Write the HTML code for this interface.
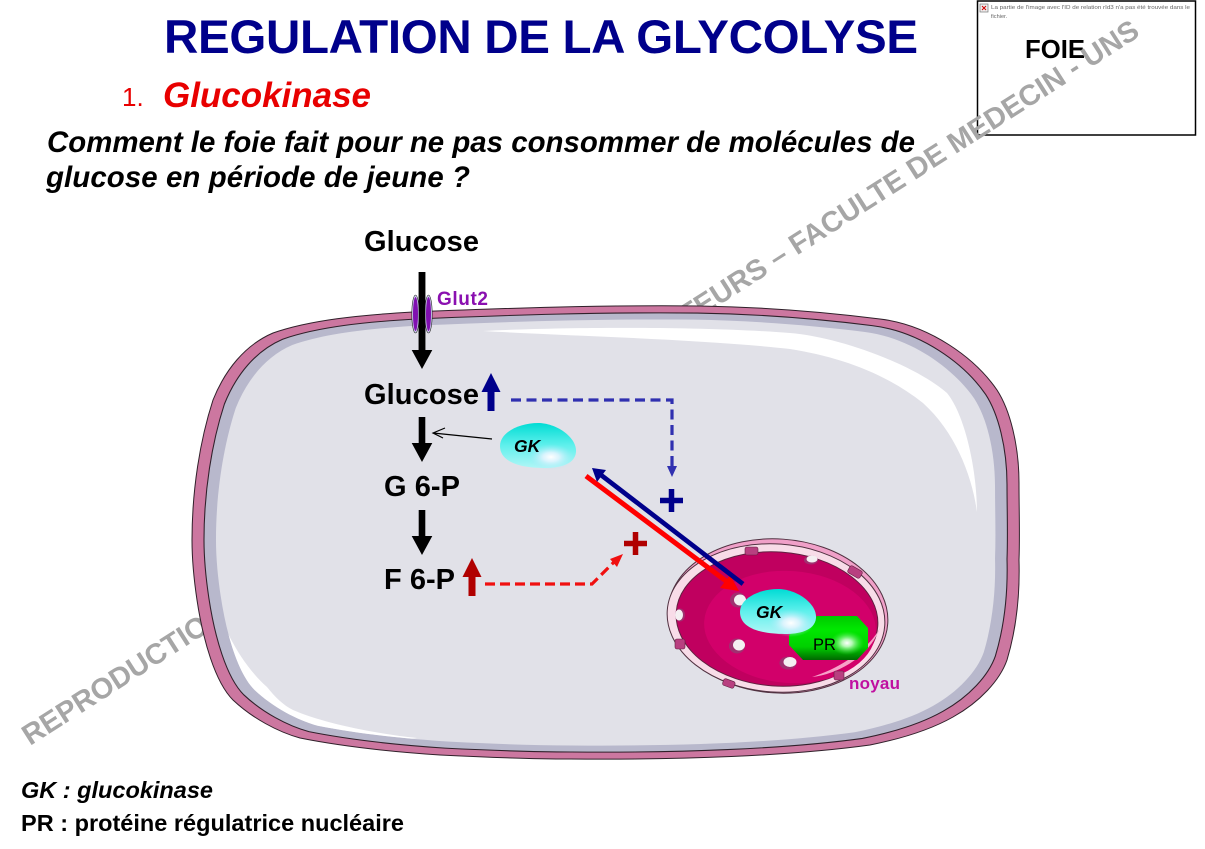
<!DOCTYPE html>
<html><head><meta charset="utf-8"><style>
html,body{margin:0;padding:0;background:#fff;width:1205px;height:849px;overflow:hidden}
svg{display:block;font-family:"Liberation Sans",sans-serif}
</style></head><body>
<svg width="1205" height="849" viewBox="0 0 1205 849" xmlns="http://www.w3.org/2000/svg">
<defs>
<path id="cell" d="M413 312 C510 308 600 305 700 306 C760 307 825 312 880 319 C930 325 975 358 997 390 C1010 410 1019 445 1019 483 C1019 510 1020 535 1019 560 C1020 595 1016 630 1007 660 C1000 680 980 702 953 717 C930 730 900 739 870 745 C790 756 680 760 570 759 C525 759 480 757 440 755 C395 752 345 747 300 738 C278 732 252 718 233 700 C215 682 203 640 197 600 C194 580 192 560 192 540 C192 490 200 440 213 400 C225 370 245 345 273 333 C310 320 360 315 413 312Z"/>
<clipPath id="inner"><use href="#cell" transform="translate(605.5 533) scale(.942 .94) translate(-605.5 -533)"/></clipPath>
<radialGradient id="hl" cx="0.5" cy="0.5" r="0.5"><stop offset="0" stop-color="#fff"/><stop offset="0.35" stop-color="#e8f4ff" stop-opacity=".85"/><stop offset="1" stop-color="#a0e8f8" stop-opacity="0"/></radialGradient>
<radialGradient id="hlg" cx="0.5" cy="0.5" r="0.5"><stop offset="0" stop-color="#fff"/><stop offset="0.3" stop-color="#d8ffd8" stop-opacity=".85"/><stop offset="1" stop-color="#40f040" stop-opacity="0"/></radialGradient>
<linearGradient id="gk" x1="0" y1="0" x2="0" y2="1"><stop offset="0" stop-color="#00dcd4"/><stop offset=".5" stop-color="#60f0ec"/><stop offset="1" stop-color="#b0f6f6"/></linearGradient>
<linearGradient id="pr" x1="0" y1="0" x2="0" y2="1"><stop offset="0" stop-color="#00c800"/><stop offset=".3" stop-color="#00e800"/><stop offset=".7" stop-color="#00d000"/><stop offset="1" stop-color="#006800"/></linearGradient>
<path id="blob" d="M500 446 C500 432 520 423 538 423 C556 423 577 437 576 452 C575 465 558 468 545 468 C520 468 500 462 500 446Z"/>
</defs>

<text x="164" y="53" font-size="47.500" font-weight="bold" fill="#00008b" textLength="754" lengthAdjust="spacing">REGULATION DE LA GLYCOLYSE</text>
<text x="122" y="106" font-size="26" fill="#e80000">1.</text>
<text x="163" y="107" font-size="35" font-weight="bold" font-style="italic" fill="#e80000" textLength="208" lengthAdjust="spacing">Glucokinase</text>
<text x="47" y="152" font-size="29.400" font-weight="bold" font-style="italic" fill="#000" textLength="868" lengthAdjust="spacing">Comment le foie fait pour ne pas consommer de molécules de</text>
<text x="46" y="187" font-size="29.400" font-weight="bold" font-style="italic" fill="#000" textLength="424" lengthAdjust="spacing">glucose en période de jeune ?</text>

<rect x="977.5" y="1" width="218" height="134" fill="#fff" stroke="#000" stroke-width="1.5"/>
<rect x="980" y="4" width="8" height="8" fill="#eee" stroke="#777" stroke-width=".7"/>
<path d="M982 6l4 4m0-4l-4 4" stroke="#d00000" stroke-width="1"/>
<text x="991" y="9" font-size="5.600" fill="#666" textLength="199" lengthAdjust="spacingAndGlyphs">La partie de l'image avec l'ID de relation rId3 n'a pas été trouvée dans le</text>
<text x="991" y="18" font-size="5.600" fill="#666">fichier.</text>
<text x="1025" y="58" font-size="25.700" font-weight="bold" fill="#000" textLength="60" lengthAdjust="spacing">FOIE</text>

<g transform="translate(30 746) rotate(-32.6)" font-size="29" font-weight="bold" fill="#a6a6a6">
<text x="0" y="0">REPRODUCTION INTERDITE</text>
<text x="1319" y="0" text-anchor="end">SANS ACCORD DES AUTEURS – FACULTE DE MEDECIN - UNS</text>
</g>

<!-- cell -->
<use href="#cell" fill="#cc77a0" stroke="#30202a" stroke-width="1"/>
<g transform="translate(605.5 533) scale(.971 .969) translate(-605.5 -533)">
<use href="#cell" fill="#b8b8cc" stroke="#30202a" stroke-width="1.100"/>
</g>
<g transform="translate(605.5 533) scale(.942 .94) translate(-605.5 -533)">
<use href="#cell" fill="#e1e1e8"/>
</g>
<path d="M483 331 C560 327 700 326 790 333 C840 337 915 365 947 393 C965 415 977 470 977 512 C972 475 955 432 923 403 C885 373 840 357 790 349 C700 339 570 336 483 331Z" fill="#fff"/>
<g clip-path="url(#inner)">
<path d="M223 623 C235 650 250 672 267 687 C275 697 283 705 293 710 C320 722 370 733 417 738 L300 755 L205 700Z" fill="#fff"/>
</g>

<!-- nucleus -->
<g>
<ellipse cx="778" cy="616" rx="110" ry="77" transform="rotate(4 778 616)" fill="#f0a0c8" stroke="#503040" stroke-width="1"/>
<ellipse cx="776" cy="618" rx="109" ry="74" transform="rotate(4 776 618)" fill="#f8dce8" stroke="#503040" stroke-width="1"/>
<ellipse cx="777" cy="619" rx="101" ry="67" transform="rotate(4 777 619)" fill="#c0005f" stroke="#602040" stroke-width="1"/>
<ellipse cx="790" cy="627" rx="86" ry="56" transform="rotate(4 790 627)" fill="#d2006a"/>
<path d="M812 677 C840 668 868 650 880 628 C870 655 840 674 812 677Z" fill="#f8a0c8"/>
<g fill="#b84080" stroke="#602040" stroke-width=".6"><rect x="745" y="547" width="13" height="8" rx="2"/><rect x="848" y="568" width="14" height="8" rx="2" transform="rotate(30 855 572)"/><rect x="675" y="639" width="10" height="10" rx="2"/><rect x="723" y="680" width="12" height="7" rx="2" transform="rotate(20 729 683)"/><rect x="834" y="671" width="10" height="9" rx="2"/></g>
<ellipse cx="738" cy="600" rx="8" ry="7.500" fill="#a03070"/><ellipse cx="740" cy="600" rx="6" ry="5.500" fill="#f4f0f2"/>
<ellipse cx="737" cy="646" rx="8" ry="7.500" fill="#a03070"/><ellipse cx="739" cy="645" rx="6" ry="5.500" fill="#f4f0f2"/>
<ellipse cx="788" cy="663" rx="8.500" ry="6.500" fill="#a03070"/><ellipse cx="790" cy="662" rx="6.500" ry="5" fill="#f4f0f2"/>
<ellipse cx="811" cy="560" rx="7" ry="4.500" fill="#a03070"/><ellipse cx="812" cy="559" rx="5.500" ry="3.500" fill="#f4f0f2"/>
<ellipse cx="680" cy="615" rx="5" ry="6.500" fill="#a03070"/><ellipse cx="679" cy="615" rx="4" ry="5.500" fill="#f4f0f2"/>
<polygon points="817,616 857,616 868,628 868,648 857,660 803,660 789,645 789,635" fill="url(#pr)"/>
<ellipse cx="847" cy="643" rx="17" ry="12" fill="url(#hlg)"/>
<use href="#blob" x="240" y="166" fill="url(#gk)"/>
<ellipse cx="791" cy="623" rx="23" ry="14" fill="url(#hl)"/>
</g>
<text x="756" y="618" font-size="17.500" font-weight="bold" font-style="italic" fill="#000">GK</text>
<text x="813" y="650" font-size="16.500" fill="#000">PR</text>
<text x="849" y="689" font-size="17" font-weight="bold" fill="#c010a0" textLength="51" lengthAdjust="spacing">noyau</text>

<!-- cytoplasm GK -->
<use href="#blob" fill="url(#gk)"/>
<ellipse cx="551" cy="457" rx="23" ry="13" fill="url(#hl)"/>
<text x="514" y="452" font-size="17.500" font-weight="bold" font-style="italic" fill="#000">GK</text>

<!-- main arrows -->
<path d="M418.700 272h6.600v78h7l-10.300 19-10.300-19h7z" fill="#000"/>
<ellipse cx="415.500" cy="314" rx="3.700" ry="19" fill="#cfd0f0" stroke="#222" stroke-width=".6"/>
<ellipse cx="428.500" cy="314" rx="3.700" ry="19" fill="#cfd0f0" stroke="#222" stroke-width=".6"/>
<ellipse cx="415.500" cy="314" rx="2.500" ry="17" fill="#8010b0"/>
<ellipse cx="428.500" cy="314" rx="2.500" ry="17" fill="#8010b0"/>
<rect x="418.700" y="272" width="6.600" height="80" fill="#000"/>
<path d="M418.700 417h6.600v26h7l-10.300 19-10.300-19h7z" fill="#000"/>
<path d="M418.700 510h6.600v26h7l-10.300 19-10.300-19h7z" fill="#000"/>
<path d="M487.500 411h7v-19h6l-9.500-19-9.500 19h6z" fill="#00008b"/>
<path d="M468.500 596h7v-19h6l-9.500-19-9.500 19h6z" fill="#b00000"/>

<text x="364" y="251" font-size="29" font-weight="bold" fill="#000" textLength="115" lengthAdjust="spacing">Glucose</text>
<text x="364" y="404" font-size="29" font-weight="bold" fill="#000" textLength="115" lengthAdjust="spacing">Glucose</text>
<text x="384" y="496" font-size="29" font-weight="bold" fill="#000" textLength="76" lengthAdjust="spacing">G 6-P</text>
<text x="384" y="589" font-size="29" font-weight="bold" fill="#000" textLength="71" lengthAdjust="spacing">F 6-P</text>
<text x="437" y="305" font-size="19" font-weight="bold" fill="#8a10b0" textLength="51" lengthAdjust="spacing">Glut2</text>

<!-- thin arrow -->
<path d="M492 439L433 433M445 428L433 433L443 438" fill="none" stroke="#000" stroke-width="1.200"/>

<!-- dashed blue -->
<path d="M511 400H672V466" fill="none" stroke="#3030b0" stroke-width="3.200" stroke-dasharray="10 5.500"/>
<path d="M667 466h10l-5 11z" fill="#3030b0"/>
<path d="M660 500.500h23M671.500 489v23" stroke="#00008b" stroke-width="5.500"/>

<!-- dashed red -->
<path d="M485 584H592L615 561" fill="none" stroke="#f01010" stroke-width="3.200" stroke-dasharray="10 5"/>
<path d="M623 554L617 567L610 559z" fill="#f01010"/>
<path d="M624 543.500h23M635.500 532v23" stroke="#b00000" stroke-width="5.500"/>

<!-- diagonal lines -->
<path d="M586 476L726 581" stroke="#ff0000" stroke-width="5"/>
<path d="M739 591L720 588L730 575z" fill="#ff0000"/>
<path d="M743 584L601 475" stroke="#00008b" stroke-width="4.700"/>
<path d="M592 468L606 470L597 482z" fill="#00008b"/>

<text x="21" y="798" font-size="23.500" font-weight="bold" font-style="italic" fill="#000" textLength="192" lengthAdjust="spacing">GK : glucokinase</text>
<text x="21" y="831" font-size="23.500" font-weight="bold" fill="#000" textLength="383" lengthAdjust="spacing">PR : protéine régulatrice nucléaire</text>
</svg>
</body></html>
